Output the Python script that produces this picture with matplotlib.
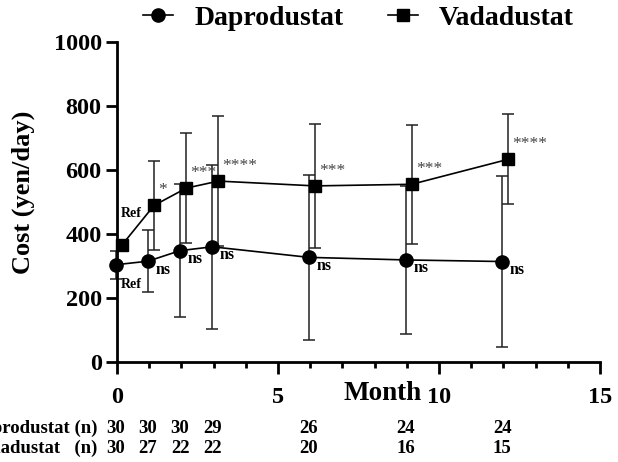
import matplotlib.pyplot as plt
import matplotlib.transforms as mtransforms
import numpy as np

months = np.array([0, 1, 2, 3, 6, 9, 12])
dap_mean = [305, 316, 349, 361, 328, 320, 315]
dap_sd = [43, 96, 208, 256, 257, 232, 266]
vad_mean = [366, 490, 544, 566, 551, 556, 634]
vad_sd = [0, 140, 172, 203, 193, 186, 140]
dap_sig = ["Ref", "ns", "ns", "ns", "ns", "ns", "ns"]
vad_sig = ["Ref", "*", "***", "****", "***", "***", "****"]
dap_n = [30, 30, 30, 29, 26, 24, 24]
vad_n = [30, 27, 22, 22, 20, 16, 15]

plt.rcParams["font.family"] = ["Liberation Serif", "DejaVu Serif"]
plt.rcParams["font.weight"] = "bold"

fig = plt.figure(figsize=(6.18, 4.62), dpi=100)
ax = fig.add_axes([0.1893, 0.2154, 0.7816, 0.6937])

x_dap = months - 0.04
x_vad = months + 0.15

ax.errorbar(x_dap, dap_mean, yerr=dap_sd, fmt="none", ecolor="#222222",
            elinewidth=1.1, capsize=4.5, capthick=1.1, zorder=2, clip_on=False)
ax.errorbar(x_vad, vad_mean, yerr=vad_sd, fmt="none", ecolor="#222222",
            elinewidth=1.1, capsize=4.5, capthick=1.1, zorder=2, clip_on=False)
ax.plot(x_dap, dap_mean, "k-o", lw=1.2, ms=9.5, label="Daprodustat",
        zorder=4, clip_on=False)
ax.plot(x_vad, vad_mean, "k-s", lw=1.2, ms=9, label="Vadadustat",
        zorder=4, clip_on=False)

# significance labels
for x, y, s in zip(x_dap, dap_mean, dap_sig):
    if s == "Ref":
        ax.annotate(s, (x, y), xytext=(11.5, -14.5), textcoords="offset points",
                    ha="center", va="center", fontsize=10, fontweight="bold",
                    annotation_clip=False)
    else:
        ax.annotate(s, (x, y), xytext=(5.5, -6), textcoords="offset points",
                    ha="left", va="center", fontsize=11.5, fontweight="bold",
                    annotation_clip=False)
for x, y, s in zip(x_vad, vad_mean, vad_sig):
    if s == "Ref":
        ax.annotate(s, (x, y), xytext=(7, 23), textcoords="offset points",
                    ha="center", va="center", fontsize=10, fontweight="bold",
                    annotation_clip=False)
    else:
        ax.annotate(s, (x, y), xytext=(3, 11), textcoords="offset points",
                    ha="left", va="center", fontsize=12.5, fontweight="normal",
                    color="#444444", annotation_clip=False)

ax.set_xlim(0, 15)
ax.set_ylim(0, 1000)
ax.set_xticks([0, 5, 10, 15])
ax.set_xticks(np.arange(0, 16, 1), minor=True)
ax.set_yticks(np.arange(0, 1001, 200))
for side in ["top", "right"]:
    ax.spines[side].set_visible(False)
for side in ["left", "bottom"]:
    ax.spines[side].set_linewidth(2)
ax.tick_params(axis="y", which="major", length=8, width=2, pad=3, labelsize=17.5)
ax.tick_params(axis="x", which="major", length=8.5, width=2, pad=9, labelsize=17.5)
ax.tick_params(axis="x", which="minor", length=4.3, width=2)
ax.set_ylabel("Cost (yen/day)", fontsize=19, fontweight="bold", labelpad=7)
ax.yaxis.set_label_coords(-0.17, 0.53)
ax.text(0.549, -0.098, "Month", transform=ax.transAxes, ha="center",
        va="center", fontsize=19.5, fontweight="bold")

# number at risk table
trans = mtransforms.blended_transform_factory(ax.transData, ax.transAxes)
ax.text(-0.041, -0.205, "Daprodustat (n)", transform=ax.transAxes, ha="right",
        va="center", fontsize=13.5, fontweight="bold")
ax.text(-0.041, -0.267, "Vadadustat   (n)", transform=ax.transAxes, ha="right",
        va="center", fontsize=13.5, fontweight="bold")
for x, a, b in zip(x_dap, dap_n, vad_n):
    ax.text(x, -0.205, str(a), transform=trans, ha="center", va="center",
            fontsize=13.5, fontweight="bold")
    ax.text(x, -0.267, str(b), transform=trans, ha="center", va="center",
            fontsize=13.5, fontweight="bold")

fig.legend(loc="center", bbox_to_anchor=(0.58, 0.961), ncol=2, frameon=False,
           fontsize=20, handlelength=1.1, handletextpad=0.75,
           columnspacing=1.6)

plt.savefig("out.png", dpi=100)
